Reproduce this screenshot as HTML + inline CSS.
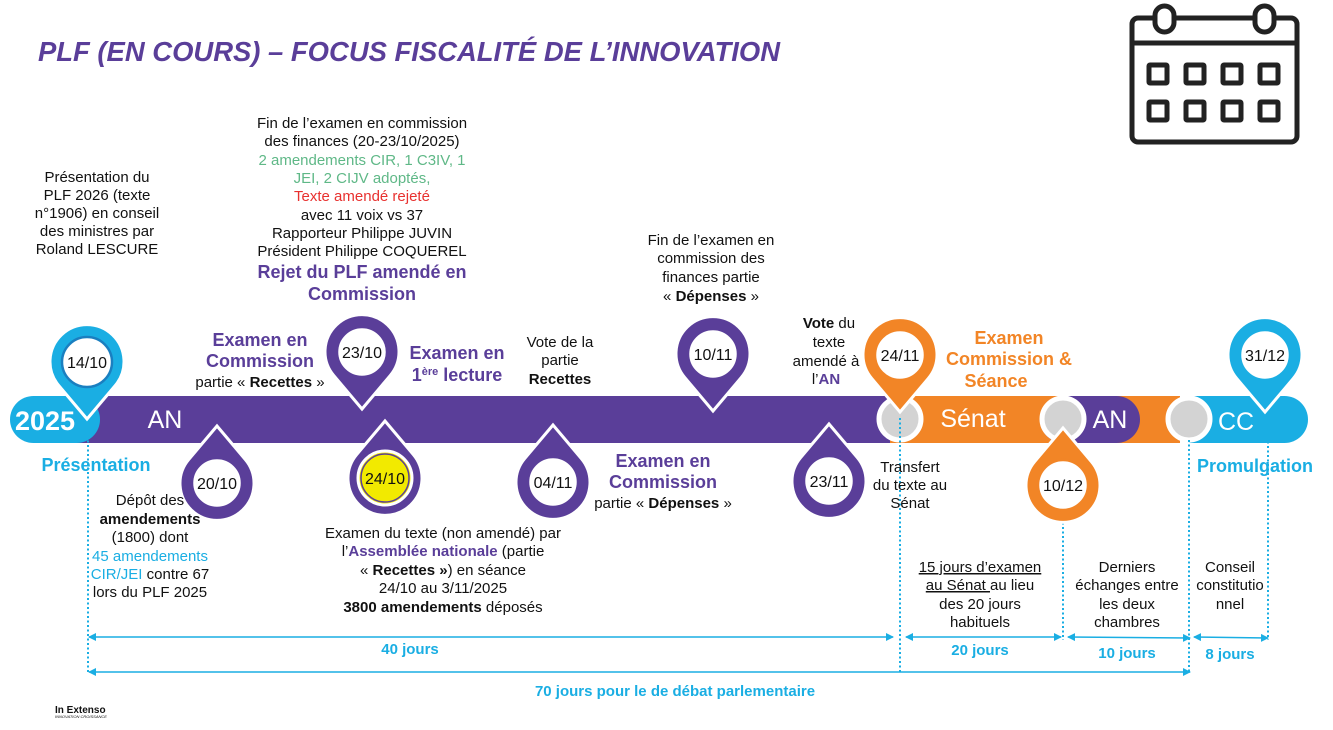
<!DOCTYPE html>
<html><head><meta charset="utf-8"><style>
html,body{margin:0;padding:0;background:#fff}
svg{display:block}
text{font-family:"Liberation Sans",Arial,sans-serif}
</style></head><body>
<svg width="1333" height="730" viewBox="0 0 1333 730" xmlns="http://www.w3.org/2000/svg">
<defs>
<path id="pin" d="M0 57 L-28.2 23.6 A37 37 0 1 1 28.2 23.6 Z"/>
<marker id="ah" markerWidth="8" markerHeight="8" refX="7" refY="4" orient="auto-start-reverse" markerUnits="userSpaceOnUse"><path d="M0 0 L8 4 L0 8 Z" fill="#1aaee3"/></marker>
</defs>

<text x="38" y="61" font-size="28" font-weight="bold" font-style="italic" fill="#5a3e99" textLength="742" lengthAdjust="spacingAndGlyphs">PLF (EN COURS) – FOCUS FISCALITÉ DE L’INNOVATION</text>

<g fill="none" stroke="#222" stroke-width="5" stroke-linejoin="round">
<rect x="1132" y="18" width="165" height="124" rx="6"/>
<line x1="1132" y1="43" x2="1297" y2="43"/>
<rect x="1155" y="6" width="19" height="26" rx="9.5" fill="#fff"/>
<rect x="1255" y="6" width="19" height="26" rx="9.5" fill="#fff"/>
<rect x="1149" y="65" width="18" height="18" rx="1"/><rect x="1186" y="65" width="18" height="18" rx="1"/><rect x="1223" y="65" width="18" height="18" rx="1"/><rect x="1260" y="65" width="18" height="18" rx="1"/>
<rect x="1149" y="102" width="18" height="18" rx="1"/><rect x="1186" y="102" width="18" height="18" rx="1"/><rect x="1223" y="102" width="18" height="18" rx="1"/><rect x="1260" y="102" width="18" height="18" rx="1"/>
</g>

<rect x="60" y="396" width="850" height="47" fill="#5a3e99"/>
<rect x="10" y="396" width="90" height="47" rx="23.5" fill="#1aaee3"/>
<rect x="890" y="396" width="290" height="47" fill="#f28526"/>
<rect x="1040" y="396" width="100" height="47" rx="23.5" fill="#5a3e99"/>
<rect x="1170" y="396" width="138" height="47" rx="23.5" fill="#1aaee3"/>
<g fill="#d3d3d3" stroke="#fff" stroke-width="5">
<circle cx="900" cy="419" r="21"/><circle cx="1063" cy="419" r="21"/><circle cx="1189" cy="419" r="21"/>
</g>
<g fill="#fff" text-anchor="middle">
<text x="45" y="430" font-size="27" font-weight="bold">2025</text>
<text x="165" y="428" font-size="25">AN</text>
<text x="973" y="427" font-size="25">Sénat</text>
<text x="1110" y="428" font-size="25">AN</text>
<text x="1236" y="430" font-size="25">CC</text>
</g>

<g stroke="#1aaee3" stroke-width="2" stroke-dasharray="2 2.5">
<line x1="88" y1="418" x2="88" y2="672"/>
<line x1="900" y1="418" x2="900" y2="672"/>
<line x1="1063" y1="500" x2="1063" y2="640"/>
<line x1="1189" y1="440" x2="1189" y2="672"/>
<line x1="1268" y1="410" x2="1268" y2="640"/>
</g>

<g stroke="#fff" stroke-width="3">
<use href="#pin" transform="translate(87,362)" fill="#1aaee3"/>
<use href="#pin" transform="translate(362,352)" fill="#5a3e99"/>
<use href="#pin" transform="translate(713,354)" fill="#5a3e99"/>
<use href="#pin" transform="translate(900,355)" fill="#f28526"/>
<use href="#pin" transform="translate(1265,355)" fill="#1aaee3"/>
<use href="#pin" transform="translate(217,483) rotate(180)" fill="#5a3e99"/>
<use href="#pin" transform="translate(385,478) rotate(180)" fill="#5a3e99"/>
<use href="#pin" transform="translate(553,482) rotate(180)" fill="#5a3e99"/>
<use href="#pin" transform="translate(829,481) rotate(180)" fill="#5a3e99"/>
<use href="#pin" transform="translate(1063,485) rotate(180)" fill="#f28526"/>
</g>
<g stroke-width="2.5">
<circle cx="87" cy="362" r="25" fill="#fff" stroke="#1a7fc0"/>
<circle cx="362" cy="352" r="25" fill="#fff" stroke="#5a3e99"/>
<circle cx="713" cy="354" r="25" fill="#fff" stroke="#5a3e99"/>
<circle cx="900" cy="355" r="25" fill="#fff" stroke="#f28526"/>
<circle cx="1265" cy="355" r="25" fill="#fff" stroke="#1aaee3"/>
<circle cx="217" cy="483" r="25" fill="#fff" stroke="#5a3e99"/>
<circle cx="385" cy="478" r="27" fill="#f2ea00" stroke="#fff" stroke-width="3"/>
<circle cx="385" cy="478" r="24" fill="#f2ea00" stroke="#5a3e99" stroke-width="1.5"/>
<circle cx="553" cy="482" r="25" fill="#fff" stroke="#5a3e99"/>
<circle cx="829" cy="481" r="25" fill="#fff" stroke="#5a3e99"/>
<circle cx="1063" cy="485" r="25" fill="#fff" stroke="#f28526"/>
</g>
<g font-size="16" fill="#111" text-anchor="middle">
<text x="87" y="368">14/10</text>
<text x="362" y="358">23/10</text>
<text x="713" y="360">10/11</text>
<text x="900" y="361">24/11</text>
<text x="1265" y="361">31/12</text>
<text x="217" y="489">20/10</text>
<text x="385" y="484">24/10</text>
<text x="553" y="488">04/11</text>
<text x="829" y="487">23/11</text>
<text x="1063" y="491">10/12</text>
</g>

<g font-size="15" fill="#111" text-anchor="middle">
<text x="97" y="182">Présentation du</text>
<text x="97" y="200">PLF 2026 (texte</text>
<text x="97" y="218">n°1906) en conseil</text>
<text x="97" y="236">des ministres par</text>
<text x="97" y="254">Roland LESCURE</text>

<text x="362" y="128">Fin de l’examen en commission</text>
<text x="362" y="146">des finances (20-23/10/2025)</text>
<text x="362" y="165" fill="#5fb887">2 amendements CIR, 1 C3IV, 1</text>
<text x="362" y="183" fill="#5fb887">JEI, 2 CIJV adoptés,</text>
<text x="362" y="201" fill="#e8312f">Texte amendé rejeté</text>
<text x="362" y="220">avec 11 voix vs 37</text>
<text x="362" y="238">Rapporteur Philippe JUVIN</text>
<text x="362" y="256">Président Philippe COQUEREL</text>
<text x="362" y="278" font-size="18" font-weight="bold" fill="#5a3e99">Rejet du PLF amendé en</text>
<text x="362" y="300" font-size="18" font-weight="bold" fill="#5a3e99">Commission</text>

<text x="260" y="346" font-size="18" font-weight="bold" fill="#5a3e99">Examen en</text>
<text x="260" y="367" font-size="18" font-weight="bold" fill="#5a3e99">Commission</text>
<text x="260" y="387">partie « <tspan font-weight="bold">Recettes</tspan> »</text>

<text x="457" y="359" font-size="18" font-weight="bold" fill="#5a3e99">Examen en</text>
<text x="457" y="381" font-size="18" font-weight="bold" fill="#5a3e99">1<tspan font-size="11" dy="-6">ère</tspan><tspan dy="6"> lecture</tspan></text>

<text x="560" y="347">Vote de la</text>
<text x="560" y="365">partie</text>
<text x="560" y="384" font-weight="bold">Recettes</text>

<text x="711" y="245">Fin de l’examen en</text>
<text x="711" y="263">commission des</text>
<text x="711" y="282">finances partie</text>
<text x="711" y="301">« <tspan font-weight="bold">Dépenses</tspan> »</text>

<text x="829" y="328"><tspan font-weight="bold">Vote</tspan> du</text>
<text x="829" y="347">texte</text>
<text x="826" y="366">amendé à</text>
<text x="826" y="384">l’<tspan font-weight="bold" fill="#5a3e99">AN</tspan></text>

<text x="1009" y="344" font-size="18" font-weight="bold" fill="#f28526">Examen</text>
<text x="1009" y="365" font-size="18" font-weight="bold" fill="#f28526">Commission &amp;</text>
<text x="996" y="387" font-size="18" font-weight="bold" fill="#f28526">Séance</text>

<text x="96" y="471" font-size="18" font-weight="bold" fill="#1aaee3">Présentation</text>
<text x="1255" y="472" font-size="18" font-weight="bold" fill="#1aaee3">Promulgation</text>

<text x="150" y="505">Dépôt des</text>
<text x="150" y="524" font-weight="bold">amendements</text>
<text x="150" y="542">(1800) dont</text>
<text x="150" y="561" fill="#1aaee3">45 amendements</text>
<text x="150" y="579"><tspan fill="#1aaee3">CIR/JEI</tspan> contre 67</text>
<text x="150" y="597">lors du PLF 2025</text>

<text x="443" y="538">Examen du texte (non amendé) par</text>
<text x="443" y="556">l’<tspan font-weight="bold" fill="#5a3e99">Assemblée nationale</tspan> (partie</text>
<text x="443" y="575">« <tspan font-weight="bold">Recettes »</tspan>) en séance</text>
<text x="443" y="593">24/10 au 3/11/2025</text>
<text x="443" y="612"><tspan font-weight="bold">3800 amendements</tspan> déposés</text>

<text x="663" y="467" font-size="18" font-weight="bold" fill="#5a3e99">Examen en</text>
<text x="663" y="488" font-size="18" font-weight="bold" fill="#5a3e99">Commission</text>
<text x="663" y="508">partie « <tspan font-weight="bold">Dépenses</tspan> »</text>

<text x="910" y="472">Transfert</text>
<text x="910" y="490">du texte au</text>
<text x="910" y="508">Sénat</text>

<text x="980" y="572" text-decoration="underline">15 jours d’examen</text>
<text x="980" y="590"><tspan text-decoration="underline">au Sénat </tspan>au lieu</text>
<text x="980" y="609">des 20 jours</text>
<text x="980" y="627">habituels</text>

<text x="1127" y="572">Derniers</text>
<text x="1127" y="590">échanges entre</text>
<text x="1127" y="609">les deux</text>
<text x="1127" y="627">chambres</text>

<text x="1230" y="572">Conseil</text>
<text x="1230" y="590">constitutio</text>
<text x="1230" y="609">nnel</text>
</g>

<g stroke="#1aaee3" stroke-width="1.5" marker-start="url(#ah)" marker-end="url(#ah)">
<line x1="89" y1="637" x2="893" y2="637"/>
<line x1="906" y1="637" x2="1061" y2="637"/>
<line x1="1068" y1="637" x2="1190" y2="638"/>
<line x1="1194" y1="637" x2="1268" y2="638"/>
<line x1="89" y1="672" x2="1190" y2="672"/>
</g>
<g font-size="15" font-weight="bold" fill="#1aaee3" text-anchor="middle">
<text x="410" y="654">40 jours</text>
<text x="980" y="655">20 jours</text>
<text x="1127" y="658">10 jours</text>
<text x="1230" y="659">8 jours</text>
<text x="675" y="696">70 jours pour le de débat  parlementaire</text>
</g>

<text x="55" y="713" font-size="10" font-weight="bold" fill="#111">In Extenso</text>
<text x="55" y="718" font-size="4" font-style="italic" fill="#111">INNOVATION CROISSANCE</text>
</svg>
</body></html>
